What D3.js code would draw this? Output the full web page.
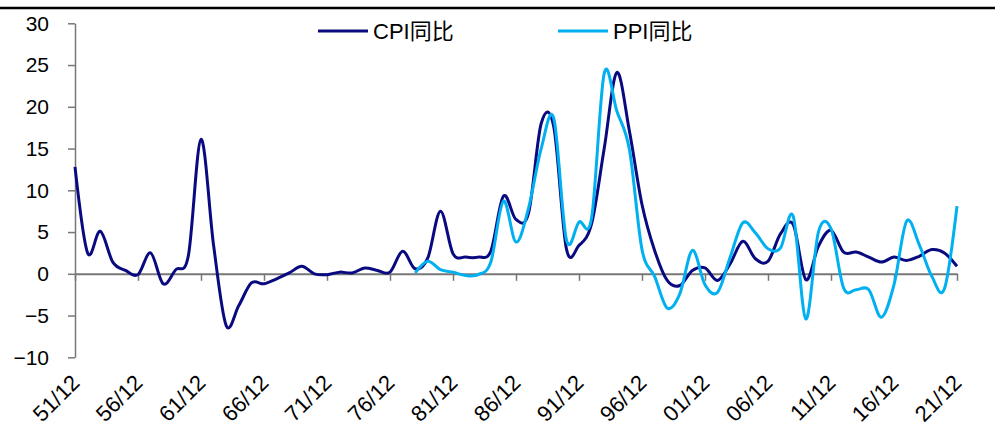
<!DOCTYPE html>
<html>
<head>
<meta charset="utf-8">
<script src="https://cdn.jsdelivr.net/npm/d3@7"></script>
<style>
  body { margin: 0; background: #fff; }
  text { font-family: "Liberation Sans", Arial, "Noto Sans CJK SC", sans-serif; }
</style>
</head>
<body>
<div id="chart"></div>
<script>
// yearly categories, 1951 .. 2021
var years = d3.range(1951, 2022);
var tickYears = [1951, 1956, 1961, 1966, 1971, 1976, 1981, 1986, 1991, 1996, 2001, 2006, 2011, 2016, 2021];
var tickLabels = ["51/12", "56/12", "61/12", "66/12", "71/12", "76/12", "81/12", "86/12", "91/12", "96/12", "01/12", "06/12", "11/12", "16/12", "21/12"];
var yTicks = [-10, -5, 0, 5, 10, 15, 20, 25, 30];

var cpi = [
  12.8, 2.5, 5.1, 1.4, 0.4, -0.1, 2.5, -1.2, 0.5, 2.2,     // 51-60
  16.1, 3.4, -6.2, -3.8, -1.1, -1.2, -0.6, 0.1, 0.9, 0.0,  // 61-70
  -0.1, 0.2, 0.1, 0.7, 0.4, 0.2, 2.7, 0.6, 1.9, 7.5,       // 71-80
  2.4, 2.0, 2.0, 2.7, 9.3, 6.5, 7.3, 18.0, 17.6, 3.0,      // 81-90
  3.4, 6.0, 15.0, 24.1, 17.1, 8.3, 2.8, -0.8, -1.4, 0.4,   // 91-00
  0.7, -0.8, 1.2, 3.9, 1.8, 1.5, 4.8, 5.9, -0.7, 3.3,      // 01-10
  5.2, 2.6, 2.6, 2.0, 1.4, 2.0, 1.6, 2.1, 2.9, 2.5,        // 11-20
  0.9                                                      // 21
];

// PPI starts in 1978
var ppiStart = 1978;
var ppi = [
  0.1, 1.5, 0.5, 0.2, -0.2, -0.1, 1.4, 8.7, 3.8, 7.9,      // 78-87
  15.0, 18.6, 4.1, 6.2, 6.7, 24.0, 19.5, 14.9, 2.9, -0.3,  // 88-97
  -4.1, -2.4, 2.8, -1.3, -2.2, 2.0, 6.1, 4.9, 3.0, 3.1,    // 98-07
  6.9, -5.4, 5.0, 5.4, -1.7, -1.9, -1.9, -5.2, -1.3, 6.3,  // 08-17
  3.5, -0.3, -1.8, 8.1                                     // 18-21
];

var seriesNames = ["CPI同比", "PPI同比"];
var seriesColors = ["#0a0a80", "#00b0f0"];

var svgWidth = 995;
var svgHeight = 430;

var svg = d3.select("#chart")
    .append("svg")
    .attr("width", svgWidth)
    .attr("height", svgHeight);

// top rule
svg.append("line")
    .attr("x1", 0).attr("x2", svgWidth)
    .attr("y1", 8).attr("y2", 8)
    .attr("stroke", "#000")
    .attr("stroke-width", 2.5);

var x = d3.scaleLinear()
    .domain([1951, 2021])
    .range([75, 957]);

var y = d3.scaleLinear()
    .domain([-10, 30])
    .range([357.3, 23.3]);

var axisColor = "#777";

// y axis
var leftAxis = d3.axisLeft(y)
    .tickValues(yTicks)
    .tickSize(7)
    .tickSizeOuter(0)
    .tickPadding(19);

var gy = svg.append("g")
    .attr("transform", "translate(75,0)")
    .call(leftAxis);
gy.select(".domain").attr("stroke", axisColor).attr("stroke-width", 1.5);
gy.selectAll(".tick line").attr("stroke", axisColor).attr("stroke-width", 1.5);
gy.selectAll(".tick text")
    .attr("fill", "#000")
    .style("font-size", "21px");

// x axis at zero
var bottomAxis = d3.axisBottom(x)
    .tickValues(tickYears)
    .tickSize(7)
    .tickSizeOuter(0)
    .tickFormat("");

var gx = svg.append("g")
    .attr("transform", `translate(0,${y(0)})`)
    .call(bottomAxis);
gx.select(".domain").attr("stroke", axisColor).attr("stroke-width", 2);
gx.selectAll(".tick line").attr("stroke", axisColor).attr("stroke-width", 1.5);

// rotated labels under the plot
svg.append("g")
    .selectAll("text")
    .data(tickYears)
    .enter()
    .append("text")
    .attr("transform", function(d) { return `translate(${x(d) + 6},384) rotate(-45)`; })
    .attr("text-anchor", "end")
    .style("font-size", "22px")
    .attr("fill", "#000")
    .text(function(d, i) { return tickLabels[i]; });

// lines
var cpiData = years.map(function(yr, i) { return { year: yr, value: cpi[i] }; });
var ppiData = ppi.map(function(v, i) { return { year: ppiStart + i, value: v }; });

var line = d3.line()
    .x(function(d) { return x(d.year); })
    .y(function(d) { return y(d.value); })
    .curve(d3.curveCatmullRom.alpha(0));

svg.append("path")
    .datum(cpiData)
    .attr("fill", "none")
    .attr("stroke", seriesColors[0])
    .attr("stroke-width", 3)
    .attr("d", line);

svg.append("path")
    .datum(ppiData)
    .attr("fill", "none")
    .attr("stroke", seriesColors[1])
    .attr("stroke-width", 3)
    .attr("d", line);

// legend
var legendX = [318, 558];
var legend = svg.append("g");
seriesNames.forEach(function(name, i) {
    legend.append("line")
        .attr("x1", legendX[i]).attr("x2", legendX[i] + 50)
        .attr("y1", 31).attr("y2", 31)
        .attr("stroke", seriesColors[i])
        .attr("stroke-width", 3);
    legend.append("text")
        .attr("x", legendX[i] + 55)
        .attr("y", 31)
        .attr("dy", "0.35em")
        .style("font-size", "22px")
        .attr("fill", "#000")
        .text(name);
});
</script>
</body>
</html>
